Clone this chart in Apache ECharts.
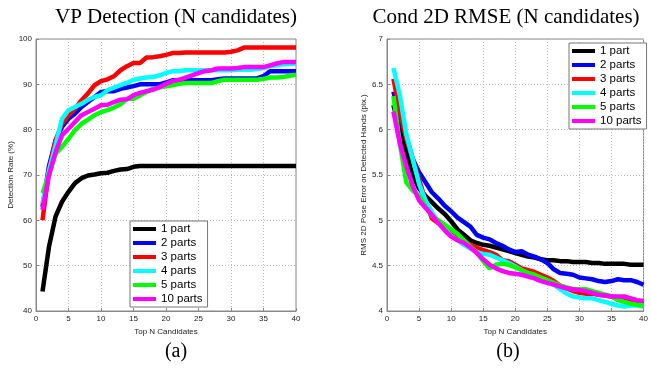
<!DOCTYPE html>
<html>
<head>
<meta charset="UTF-8" />
<script src="https://cdn.jsdelivr.net/npm/echarts@6/dist/echarts.min.js"></script>
<style>
  html, body, #main { margin: 0; padding: 0; width: 651px; height: 369px; background: #fff; }
</style>
</head>
<body>
<div id="main"></div>
<script>
// Top N candidates 1..40
const topN = Array.from({ length: 40 }, (_, i) => i + 1);
const seriesNames = ['1 part', '2 parts', '3 parts', '4 parts', '5 parts', '10 parts'];
const seriesColors = ['#000000', '#0000ff', '#ff0000', '#00ffff', '#00ff00', '#ff00ff'];

// (a) VP detection rate (%)
const vp1 = [44.3, 54.2, 60.8, 64.1, 66.3, 68.2, 69.3, 69.9, 70.1, 70.4, 70.5, 70.9, 71.2, 71.3, 71.8, 72, 72, 72, 72, 72,
  72, 72, 72, 72, 72, 72, 72, 72, 72, 72, 72, 72, 72, 72, 72, 72, 72, 72, 72, 72];
const vp2 = [63, 72, 77.6, 80.6, 82.4, 83.5, 85, 86.1, 87.2, 88.3, 88.5, 88.5, 89, 89.3, 89.6, 90, 90, 90, 90, 90.4,
  90.9, 90.9, 90.9, 90.9, 90.9, 90.9, 90.9, 91.1, 91.3, 91.3, 91.3, 91.3, 91.3, 91.3, 91.8, 92.9, 92.9, 92.9, 92.9, 92.9];
const vp3 = [60, 71, 77.6, 81.3, 83.2, 84.6, 86.5, 88, 89.8, 90.7, 91.1, 91.8, 93.1, 94, 94.7, 94.7, 95.9, 96, 96.2, 96.5,
  96.9, 96.9, 97, 97, 97, 97, 97, 97, 97, 97.2, 97.5, 98.1, 98.1, 98.1, 98.1, 98.1, 98.1, 98.1, 98.1, 98.1];
const vp4 = [63.8, 71, 76.5, 82.4, 84.3, 85, 85.7, 86.6, 87.2, 87.6, 88.7, 89.3, 89.8, 90.3, 91, 91.3, 91.5, 91.6, 92, 92.5,
  92.9, 92.9, 93.1, 93.1, 93.1, 93.1, 93.1, 93.1, 93.1, 93.1, 93.2, 93.2, 93.2, 93.4, 93.6, 94, 94.2, 94.4, 94.5, 94.6];
const vp5 = [66, 70, 74.7, 76.2, 78, 79.9, 81.3, 82.2, 83.2, 83.9, 84.3, 84.9, 85.6, 86.8, 86.8, 87.6, 88.3, 89, 89.3, 89.6,
  89.8, 90.1, 90.3, 90.3, 90.3, 90.3, 90.3, 90.7, 91, 91, 91, 91, 91, 91, 91.2, 91.5, 91.5, 91.6, 91.9, 92.1];
const vp10 = [62.3, 70, 75, 78.8, 80.2, 81.7, 83.2, 83.9, 84.6, 85.4, 85.5, 86.1, 86.6, 86.7, 87.6, 88.1, 88.5, 88.8, 89.4, 90.1,
  90.7, 91, 91.5, 92, 92.5, 92.9, 93.1, 93.5, 93.5, 93.5, 93.6, 93.8, 93.8, 93.8, 93.8, 94.2, 94.6, 94.9, 94.9, 94.9];

// (b) RMS 2D pose error on detected hands (pix.)
const err1 = [6.27, 6.00, 5.75, 5.50, 5.35, 5.27, 5.20, 5.13, 5.07, 4.99, 4.90, 4.84, 4.78, 4.75, 4.73, 4.72, 4.70, 4.68, 4.66, 4.64,
  4.62, 4.60, 4.59, 4.57, 4.56, 4.56, 4.55, 4.55, 4.54, 4.54, 4.54, 4.53, 4.53, 4.52, 4.52, 4.52, 4.52, 4.51, 4.51, 4.51];
const err2 = [6.42, 6.15, 5.93, 5.68, 5.53, 5.42, 5.31, 5.24, 5.16, 5.10, 5.03, 4.98, 4.93, 4.84, 4.81, 4.79, 4.75, 4.72, 4.68, 4.65,
  4.66, 4.62, 4.60, 4.57, 4.53, 4.46, 4.42, 4.41, 4.40, 4.37, 4.36, 4.35, 4.33, 4.32, 4.33, 4.35, 4.34, 4.34, 4.32, 4.29];
const err3 = [6.56, 6.20, 5.90, 5.68, 5.45, 5.22, 5.02, 4.97, 4.94, 4.88, 4.82, 4.77, 4.73, 4.70, 4.67, 4.65, 4.62, 4.56, 4.55, 4.51,
  4.47, 4.45, 4.43, 4.40, 4.37, 4.33, 4.28, 4.25, 4.22, 4.20, 4.19, 4.19, 4.18, 4.17, 4.16, 4.14, 4.12, 4.11, 4.10, 4.08];
const err4 = [6.68, 6.38, 5.95, 5.68, 5.40, 5.22, 5.09, 4.98, 4.90, 4.83, 4.78, 4.73, 4.69, 4.65, 4.63, 4.62, 4.59, 4.56, 4.53, 4.49,
  4.45, 4.41, 4.38, 4.35, 4.32, 4.29, 4.24, 4.19, 4.16, 4.15, 4.14, 4.14, 4.12, 4.10, 4.08, 4.06, 4.05, 4.06, 4.06, 4.05];
const err5 = [6.37, 5.85, 5.42, 5.33, 5.27, 5.15, 5.05, 5.00, 4.95, 4.90, 4.85, 4.78, 4.71, 4.64, 4.55, 4.47, 4.51, 4.52, 4.51, 4.48,
  4.45, 4.42, 4.40, 4.37, 4.34, 4.31, 4.28, 4.26, 4.24, 4.24, 4.24, 4.22, 4.20, 4.18, 4.16, 4.12, 4.10, 4.08, 4.07, 4.06];
const err10 = [6.20, 5.85, 5.60, 5.38, 5.22, 5.14, 5.06, 4.97, 4.89, 4.82, 4.78, 4.75, 4.70, 4.64, 4.57, 4.51, 4.47, 4.44, 4.42, 4.41,
  4.40, 4.38, 4.36, 4.33, 4.31, 4.29, 4.27, 4.25, 4.24, 4.23, 4.22, 4.20, 4.18, 4.17, 4.16, 4.16, 4.16, 4.14, 4.12, 4.11];

const vpData = [vp1, vp2, vp3, vp4, vp5, vp10];
const errData = [err1, err2, err3, err4, err5, err10];

const tickFont = { fontSize: 8, color: '#222', fontFamily: 'Liberation Sans, Arial, sans-serif' };
const serif = 'Liberation Serif, Times New Roman, serif';

function makeX(gridIndex) {
  return {
    type: 'value', gridIndex, min: 0, max: 40, interval: 5,
    name: 'Top N Candidates', nameLocation: 'middle', nameGap: 14,
    nameTextStyle: { fontSize: 8, color: '#222', fontFamily: tickFont.fontFamily },
    axisLine: { show: true, lineStyle: { color: '#888' } },
    axisTick: { show: true, inside: true, length: 3, lineStyle: { color: '#888' } },
    axisLabel: Object.assign({ margin: 4 }, tickFont),
    splitLine: { show: true, lineStyle: { type: [1, 2], color: '#bbb' } }
  };
}

function makeY(gridIndex, min, max, interval, name) {
  return {
    type: 'value', gridIndex, min, max, interval,
    name, nameLocation: 'middle', nameGap: gridIndex === 0 ? 16 : 13, nameRotate: 90,
    nameTextStyle: { fontSize: 8, color: '#222', fontFamily: tickFont.fontFamily },
    axisLine: { show: true, lineStyle: { color: '#888' } },
    axisTick: { show: true, inside: true, length: 3, lineStyle: { color: '#888' } },
    axisLabel: Object.assign({ margin: 4 }, tickFont),
    splitLine: { show: true, lineStyle: { type: [1, 2], color: '#bbb' } }
  };
}

function makeLegend(left, top) {
  return {
    orient: 'vertical', left, top,
    data: seriesNames,
    icon: 'rect', itemWidth: 23, itemHeight: 4, itemGap: 0, itemTextGap: 2,
    padding: [1, 5, 1, 3],
    borderColor: '#777', borderWidth: 1, backgroundColor: '#fff',
    textStyle: { fontSize: 11.5, lineHeight: 14, color: '#000', fontFamily: 'Liberation Sans, Arial, sans-serif' }
  };
}

const series = [];
seriesNames.forEach((name, i) => {
  series.push({
    name, type: 'line', xAxisIndex: 0, yAxisIndex: 0,
    data: topN.map((n, k) => [n, vpData[i][k]]),
    showSymbol: false, symbol: 'none',
    lineStyle: { color: seriesColors[i], width: 4.5 },
    itemStyle: { color: seriesColors[i] }
  });
  series.push({
    name, type: 'line', xAxisIndex: 1, yAxisIndex: 1,
    data: topN.map((n, k) => [n, errData[i][k]]),
    showSymbol: false, symbol: 'none',
    lineStyle: { color: seriesColors[i], width: 4.5 },
    itemStyle: { color: seriesColors[i] }
  });
});

const chart = echarts.init(document.getElementById('main'), null, { renderer: 'canvas' });
chart.setOption({
  animation: false,
  backgroundColor: '#fff',
  grid: [
    { left: 36, top: 39, width: 260, height: 272, show: true, borderColor: '#888', borderWidth: 1, backgroundColor: '#fff' },
    { left: 387, top: 39, width: 259, height: 272, show: true, borderColor: '#888', borderWidth: 1, backgroundColor: '#fff' }
  ],
  xAxis: [makeX(0), makeX(1)],
  yAxis: [
    makeY(0, 40, 100, 10, 'Detection Rate (%)'),
    makeY(1, 4, 7, 0.5, 'RMS 2D Pose Error on Detected Hands (pix.)')
  ],
  legend: [makeLegend(130, 221), makeLegend(569, 43)],
  graphic: [
    { type: 'text', x: 176, y: 7, style: { text: 'VP Detection (N candidates)', font: '21px ' + serif, fill: '#000', textAlign: 'center' } },
    { type: 'text', x: 506, y: 7, style: { text: 'Cond 2D RMSE (N candidates)', font: '21px ' + serif, fill: '#000', textAlign: 'center' } },
    { type: 'text', x: 176, y: 342, style: { text: '(a)', font: '20px ' + serif, fill: '#000', textAlign: 'center' } },
    { type: 'text', x: 508, y: 342, style: { text: '(b)', font: '20px ' + serif, fill: '#000', textAlign: 'center' } }
  ],
  series
});
</script>
</body>
</html>
